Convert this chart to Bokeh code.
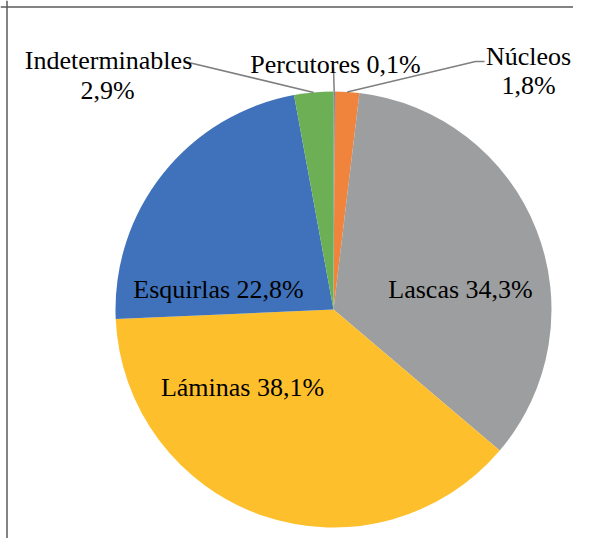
import math
from bokeh.plotting import figure
from bokeh.models import Range1d, Span, ColumnDataSource
from bokeh.core.properties import value
from bokeh.embed import file_html
from bokeh.resources import INLINE

# ---- data ----
categories = ["Percutores", "Núcleos", "Lascas", "Láminas", "Esquirlas", "Indeterminables"]
percentages = [0.1, 1.8, 34.3, 38.1, 22.8, 2.9]
colors = ["#4472C4", "#F1843C", "#9C9E9F", "#FEBF2C", "#3F72BA", "#6CAF55"]

# ---- layout ----
W, H = 573, 538
OX, OY = 1, 1  # picture offset of the figure


def X(px):
    return px - OX


def Y(py):
    return H + OY - py


p = figure(width=W, height=H, output_backend="svg", toolbar_location=None,
           x_range=Range1d(0, W), y_range=Range1d(0, H), min_border=0)
p.axis.visible = False
p.grid.visible = False
p.outline_line_color = None
p.background_fill_color = "white"
p.border_fill_color = "white"

cx, cy, R = X(334), Y(310), 218
total = sum(percentages)
starts, ends, mids = [], [], []
cum = 0.0
for v in percentages:
    a0 = math.pi / 2 - 2 * math.pi * cum / total
    cum += v
    a1 = math.pi / 2 - 2 * math.pi * cum / total
    starts.append(a0)
    ends.append(a1)
    mids.append((a0 + a1) / 2)

src = ColumnDataSource(dict(start=starts, end=ends, color=colors, cat=categories))
p.wedge(x=cx, y=cy, radius=R, start_angle="start", end_angle="end",
        direction="clock", fill_color="color", line_color=None, source=src)


def fmt(v):
    return f"{v:.1f}".replace(".", ",") + "%"


# label placement (picture pixels: center x, baseline y); two-line labels have two rows
label_layout = {
    "Percutores": [(336, 65, "one")],
    "Núcleos": [(529, 57, "name"), (529, 86, "pct")],
    "Lascas": [(461, 290, "one")],
    "Láminas": [(243, 388, "one")],
    "Esquirlas": [(219, 290, "one")],
    "Indeterminables": [(109, 61, "name"), (108, 91, "pct")],
}
# leader line anchor points near the labels (picture pixels)
leader_anchor = {
    "Percutores": [(334, 68)],
    "Núcleos": [(485, 62), (476, 62)],
    "Indeterminables": [(185, 62)],
}

tx, ty, tt = [], [], []
for cat, v in zip(categories, percentages):
    for (lx, ly, kind) in label_layout[cat]:
        if kind == "one":
            s = f"{cat} {fmt(v)}"
        elif kind == "name":
            s = cat
        else:
            s = fmt(v)
        tx.append(X(lx))
        ty.append(Y(ly))
        tt.append(s)

xs, ys = [], []
for i, cat in enumerate(categories):
    if cat in leader_anchor:
        pts = leader_anchor[cat]
        lx = [X(a) for a, b in pts] + [cx + R * math.cos(mids[i])]
        ly = [Y(b) for a, b in pts] + [cy + R * math.sin(mids[i])]
        xs.append(lx)
        ys.append(ly)

p.multi_line(xs=xs, ys=ys, line_color="#7F7F7F", line_width=1.5)

p.text(x=tx, y=ty, text=tt, text_font=value("Liberation Serif"),
       text_font_size="26px", text_align="center", text_baseline="alphabetic",
       text_color="black")

# chart-area frame (only top and left visible in the cropped picture)
p.add_layout(Span(location=Y(7.5), dimension="width", line_color="#5A5A5A", line_width=1.5))
p.add_layout(Span(location=X(7.5), dimension="height", line_color="#5A5A5A", line_width=1.5))

open("out.html", "w").write(file_html(p, INLINE))
